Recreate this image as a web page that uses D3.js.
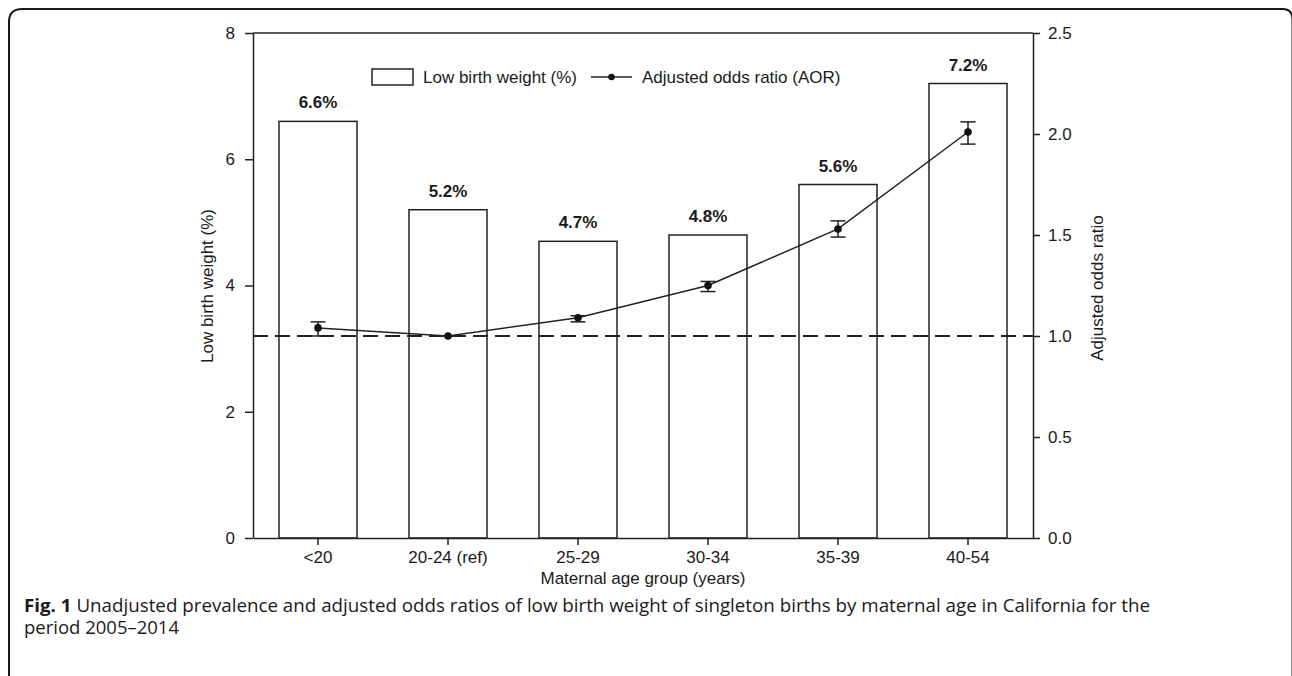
<!DOCTYPE html>
<html>
<head>
<meta charset="utf-8">
<script src="https://cdn.jsdelivr.net/npm/d3@7"></script>
<style>
  html, body { margin: 0; padding: 0; background: #fff; }
  svg { display: block; }
  .tick text, .lbl { font-family: "Liberation Sans", Arial, sans-serif; fill: #1a1a1a; }
</style>
</head>
<body>
<svg id="chart" width="1292" height="676"></svg>
<script>
// Maternal age groups and their measures
const categories = ["<20", "20-24 (ref)", "25-29", "30-34", "35-39", "40-54"];
const lbwPercent = [6.6, 5.2, 4.7, 4.8, 5.6, 7.2];          // low birth weight, %
const aor        = [1.04, 1.00, 1.09, 1.25, 1.53, 2.01];    // adjusted odds ratio
const aorLow     = [1.00, 1.00, 1.07, 1.22, 1.49, 1.95];    // 95% CI lower
const aorHigh    = [1.07, 1.00, 1.10, 1.27, 1.57, 2.06];    // 95% CI upper
const leftTicks  = [0, 2, 4, 6, 8];
const rightTicks = [0, 0.5, 1.0, 1.5, 2.0, 2.5];
const aorReference = 1.0;

const svg = d3.select("#chart");
const ink = "#222";
const font = '"Liberation Sans", Arial, sans-serif';

// Plot area
const plot = { left: 253, right: 1033, top: 33, bottom: 538 };

const x = d3.scaleBand()
  .domain(categories)
  .range([plot.left, plot.right])
  .paddingInner(0.4)
  .paddingOuter(0.2);
const yL = d3.scaleLinear().domain([0, 8]).range([plot.bottom, plot.top]);
const yR = d3.scaleLinear().domain([0, 2.5]).range([plot.bottom, plot.top]);

// Outer figure frame (rounded top corners)
svg.append("path")
  .attr("d", "M9,680 V22 Q9,9 22,9 H1282 Q1292.5,9 1292.5,19 V680")
  .attr("fill", "none").attr("stroke", "#1a1a1a").attr("stroke-width", 2);

// Bars
const rows = categories.map((c, i) => ({
  cat: c, lbw: lbwPercent[i], aor: aor[i], lo: aorLow[i], hi: aorHigh[i]
}));

svg.append("g").selectAll("rect").data(rows).join("rect")
  .attr("x", d => x(d.cat))
  .attr("y", d => yL(d.lbw))
  .attr("width", x.bandwidth())
  .attr("height", d => yL(0) - yL(d.lbw))
  .attr("fill", "#fff").attr("stroke", ink).attr("stroke-width", 1.5);

// Bar value labels
svg.append("g").selectAll("text").data(rows).join("text")
  .attr("class", "lbl")
  .attr("x", d => x(d.cat) + x.bandwidth() / 2)
  .attr("y", d => yL(d.lbw) - 13)
  .attr("text-anchor", "middle")
  .attr("font-size", 17).attr("font-weight", "bold")
  .text(d => d.lbw.toFixed(1) + "%");

// Reference line at AOR = 1
svg.append("line")
  .attr("x1", plot.left).attr("x2", plot.right)
  .attr("y1", yR(aorReference)).attr("y2", yR(aorReference))
  .attr("stroke", ink).attr("stroke-width", 2)
  .attr("stroke-dasharray", "15,7");

// AOR line
const cx = d => x(d.cat) + x.bandwidth() / 2;
svg.append("path")
  .datum(rows)
  .attr("fill", "none").attr("stroke", ink).attr("stroke-width", 1.5)
  .attr("d", d3.line().x(cx).y(d => yR(d.aor)));

// Confidence interval whiskers
const eb = svg.append("g").attr("stroke", ink).attr("stroke-width", 1.5);
rows.filter(d => d.hi > d.lo).forEach(d => {
  const g = eb.append("g");
  g.append("line").attr("x1", cx(d)).attr("x2", cx(d)).attr("y1", yR(d.lo)).attr("y2", yR(d.hi));
  g.append("line").attr("x1", cx(d) - 7.5).attr("x2", cx(d) + 7.5).attr("y1", yR(d.lo)).attr("y2", yR(d.lo));
  g.append("line").attr("x1", cx(d) - 7.5).attr("x2", cx(d) + 7.5).attr("y1", yR(d.hi)).attr("y2", yR(d.hi));
});

// AOR points
svg.append("g").selectAll("circle").data(rows).join("circle")
  .attr("cx", cx).attr("cy", d => yR(d.aor)).attr("r", 3.8).attr("fill", "#111");

// Axes
const styleAxis = g => {
  g.selectAll("path.domain").attr("stroke", ink).attr("stroke-width", 1.5);
  g.selectAll(".tick line").attr("stroke", ink).attr("stroke-width", 1.5);
  g.selectAll(".tick text").attr("font-size", 17).attr("font-family", font).attr("fill", "#1a1a1a");
};

svg.append("g")
  .attr("transform", `translate(${plot.left},0)`)
  .call(d3.axisLeft(yL).tickValues(leftTicks).tickSize(8).tickSizeOuter(0).tickPadding(10).tickFormat(d3.format("d")))
  .call(styleAxis);

svg.append("g")
  .attr("transform", `translate(${plot.right},0)`)
  .call(d3.axisRight(yR).tickValues(rightTicks).tickSize(7).tickSizeOuter(0).tickPadding(8).tickFormat(d3.format(".1f")))
  .call(styleAxis);

svg.append("g")
  .attr("transform", `translate(0,${plot.bottom})`)
  .call(d3.axisBottom(x).tickSize(7).tickSizeOuter(0).tickPadding(6))
  .call(styleAxis);

// Top border of plot
svg.append("line")
  .attr("x1", plot.left).attr("x2", plot.right)
  .attr("y1", plot.top).attr("y2", plot.top)
  .attr("stroke", ink).attr("stroke-width", 1.5);

// Axis titles
svg.append("text").attr("class", "lbl")
  .attr("transform", "translate(213,286) rotate(-90)")
  .attr("text-anchor", "middle").attr("font-size", 17)
  .text("Low birth weight (%)");

svg.append("text").attr("class", "lbl")
  .attr("transform", "translate(1103,288) rotate(-90)")
  .attr("text-anchor", "middle").attr("font-size", 17)
  .text("Adjusted odds ratio");

svg.append("text").attr("class", "lbl")
  .attr("x", (plot.left + plot.right) / 2).attr("y", 584)
  .attr("text-anchor", "middle").attr("font-size", 17)
  .text("Maternal age group (years)");

// Legend
const lg = svg.append("g");
lg.append("rect").attr("x", 372).attr("y", 69).attr("width", 41).attr("height", 16)
  .attr("fill", "#fff").attr("stroke", ink).attr("stroke-width", 1.5);
lg.append("text").attr("class", "lbl").attr("x", 423).attr("y", 83)
  .attr("font-size", 17).text("Low birth weight (%)");
lg.append("line").attr("x1", 591).attr("x2", 632).attr("y1", 77).attr("y2", 77)
  .attr("stroke", ink).attr("stroke-width", 1.5);
lg.append("circle").attr("cx", 611.5).attr("cy", 77).attr("r", 3.2).attr("fill", "#111");
lg.append("text").attr("class", "lbl").attr("x", 642).attr("y", 83)
  .attr("font-size", 17).text("Adjusted odds ratio (AOR)");

// Figure caption
const capFont = '"Open Sans", "Noto Sans", sans-serif';
const cap1 = svg.append("text")
  .attr("x", 24).attr("y", 612)
  .attr("font-family", capFont).attr("font-size", 18).attr("fill", "#1a1a1a")
  .attr("textLength", 1126).attr("lengthAdjust", "spacingAndGlyphs");
cap1.append("tspan").attr("font-weight", "bold").text("Fig. 1");
cap1.append("tspan").text(" Unadjusted prevalence and adjusted odds ratios of low birth weight of singleton births by maternal age in California for the");

svg.append("text")
  .attr("x", 24).attr("y", 634)
  .attr("font-family", capFont).attr("font-size", 18).attr("fill", "#1a1a1a")
  .attr("textLength", 155).attr("lengthAdjust", "spacingAndGlyphs")
  .text("period 2005\u20132014");
</script>
</body>
</html>
